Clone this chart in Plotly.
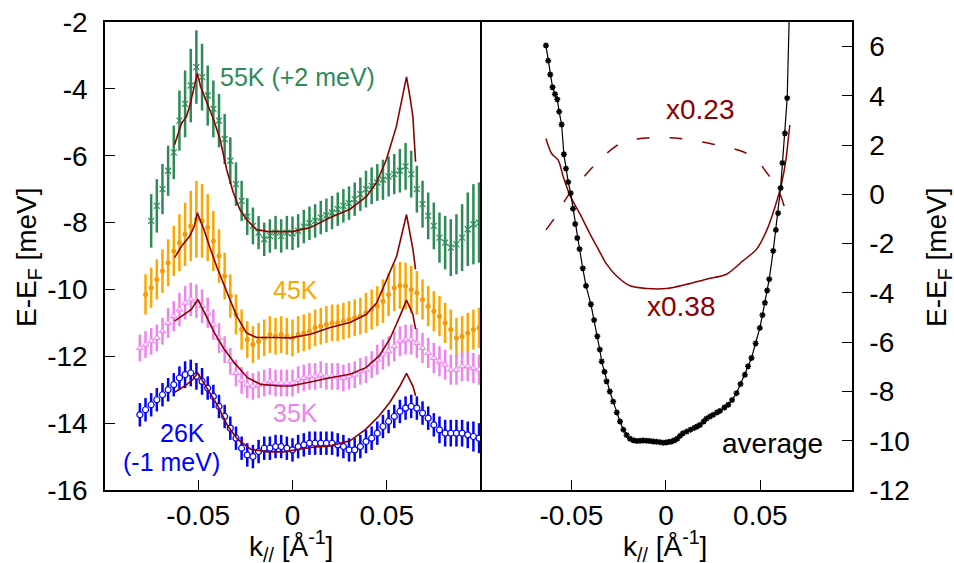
import plotly.graph_objects as go

# ---------------- left panel data ----------------
K_GREEN = [-0.075, -0.072, -0.069, -0.066, -0.063, -0.060, -0.057, -0.054, -0.051, -0.048,
           -0.045, -0.042, -0.039, -0.036, -0.033, -0.030, -0.027, -0.024, -0.021, -0.018,
           -0.015, -0.012, -0.009, -0.006, -0.003, 0.000, 0.003, 0.006, 0.009, 0.012,
           0.015, 0.018, 0.021, 0.024, 0.027, 0.030, 0.033, 0.036, 0.039, 0.042,
           0.045, 0.048, 0.051, 0.054, 0.057, 0.060, 0.063, 0.066, 0.069, 0.072,
           0.075, 0.078, 0.081, 0.084, 0.087, 0.090, 0.093, 0.096, 0.099]
E_GREEN = [-7.95, -7.5, -7.0, -6.45, -5.9, -4.95, -4.45, -3.9, -3.35, -3.65,
           -4.2, -4.6, -4.95, -5.5, -6.15, -6.85, -7.35, -7.82, -8.1, -8.3,
           -8.5, -8.4, -8.3, -8.4, -8.3, -8.32, -8.25, -8.12, -8.02, -7.95,
           -7.85, -7.78, -7.7, -7.6, -7.5, -7.42, -7.3, -7.15, -7.0, -6.9,
           -6.8, -6.72, -6.62, -6.55, -6.45, -6.32, -6.55, -7.0, -7.45, -7.8,
           -8.1, -8.45, -8.6, -8.75, -8.65, -8.45, -8.2, -8.05, -8.0]
ERR_GREEN = [0.8, 0.8, 0.75, 0.75, 0.8, 0.9, 1.0, 1.1, 1.1, 1.0,
             0.9, 0.85, 0.8, 0.75, 0.7, 0.65, 0.6, 0.55, 0.55, 0.5,
             0.5, 0.5, 0.5, 0.5, 0.5, 0.5, 0.5, 0.5, 0.5, 0.5,
             0.5, 0.5, 0.5, 0.5, 0.5, 0.5, 0.5, 0.5, 0.55, 0.55,
             0.55, 0.6, 0.6, 0.6, 0.65, 0.7, 0.7, 0.7, 0.7, 0.7,
             0.7, 0.75, 0.8, 0.85, 0.9, 1.0, 1.1, 1.2, 1.2]

K_ORANGE = [-0.078, -0.075, -0.072, -0.069, -0.066, -0.063, -0.060, -0.057, -0.054, -0.051,
            -0.048, -0.045, -0.042, -0.039, -0.036, -0.033, -0.030, -0.027, -0.024, -0.021,
            -0.018, -0.015, -0.012, -0.009, -0.006, -0.003, 0.000, 0.003, 0.006, 0.009,
            0.012, 0.015, 0.018, 0.021, 0.024, 0.027, 0.030, 0.033, 0.036, 0.039,
            0.042, 0.045, 0.048, 0.051, 0.054, 0.057, 0.060, 0.063, 0.066, 0.069,
            0.072, 0.075, 0.078, 0.081, 0.084, 0.087, 0.090, 0.093, 0.096, 0.099]
E_ORANGE = [-10.15, -9.95, -9.7, -9.45, -9.2, -8.85, -8.6, -8.35, -8.1, -7.9,
            -7.95, -8.15, -8.55, -9.0, -9.6, -10.2, -10.75, -11.2, -11.5, -11.65,
            -11.55, -11.45, -11.35, -11.4, -11.35, -11.4, -11.45, -11.35, -11.3, -11.25,
            -11.15, -11.1, -11.05, -11.0, -11.0, -10.95, -10.9, -10.85, -10.8, -10.7,
            -10.6, -10.5, -10.35, -10.15, -9.95, -9.88, -9.9, -10.0, -10.1, -10.3,
            -10.5, -10.65, -10.8, -11.0, -11.2, -11.45, -11.4, -11.3, -11.2, -11.15]
ERR_ORANGE = [0.6, 0.6, 0.6, 0.65, 0.7, 0.75, 0.85, 0.95, 1.05, 1.15,
              1.1, 1.0, 0.9, 0.8, 0.7, 0.65, 0.6, 0.6, 0.55, 0.55,
              0.55, 0.55, 0.55, 0.55, 0.55, 0.55, 0.55, 0.55, 0.55, 0.55,
              0.55, 0.55, 0.55, 0.55, 0.55, 0.55, 0.55, 0.55, 0.55, 0.6,
              0.6, 0.6, 0.65, 0.65, 0.7, 0.7, 0.7, 0.7, 0.65, 0.6,
              0.6, 0.6, 0.6, 0.6, 0.6, 0.6, 0.6, 0.6, 0.6, 0.6]

K_PB = [-0.081, -0.078, -0.075, -0.072, -0.069, -0.066, -0.063, -0.060, -0.057, -0.054,
        -0.051, -0.048, -0.045, -0.042, -0.039, -0.036, -0.033, -0.030, -0.027, -0.024,
        -0.021, -0.018, -0.015, -0.012, -0.009, -0.006, -0.003, 0.000, 0.003, 0.006,
        0.009, 0.012, 0.015, 0.018, 0.021, 0.024, 0.027, 0.030, 0.033, 0.036,
        0.039, 0.042, 0.045, 0.048, 0.051, 0.054, 0.057, 0.060, 0.063, 0.066,
        0.069, 0.072, 0.075, 0.078, 0.081, 0.084, 0.087, 0.090, 0.093, 0.096, 0.099]
E_PINK = [-11.75, -11.65, -11.55, -11.45, -11.25, -11.0, -10.8, -10.6, -10.4, -10.3,
          -10.35, -10.5, -10.7, -11.05, -11.45, -11.8, -12.15, -12.5, -12.72, -12.85,
          -12.9, -12.85, -12.8, -12.75, -12.8, -12.8, -12.8, -12.8, -12.7, -12.65,
          -12.6, -12.6, -12.55, -12.6, -12.6, -12.6, -12.65, -12.6, -12.55, -12.45,
          -12.4, -12.25, -12.1, -11.95, -11.85, -11.7, -11.55, -11.5, -11.5, -11.6,
          -11.75, -11.9, -12.05, -12.15, -12.25, -12.4, -12.4, -12.3, -12.3, -12.35, -12.4]
ERR_PINK = [0.4, 0.4, 0.4, 0.4, 0.4, 0.45, 0.45, 0.5, 0.5, 0.5,
            0.5, 0.5, 0.45, 0.45, 0.45, 0.4, 0.4, 0.4, 0.4, 0.4,
            0.4, 0.4, 0.4, 0.4, 0.4, 0.4, 0.4, 0.4, 0.4, 0.4,
            0.4, 0.4, 0.4, 0.4, 0.4, 0.4, 0.4, 0.4, 0.4, 0.4,
            0.4, 0.4, 0.45, 0.45, 0.45, 0.45, 0.45, 0.45, 0.45, 0.45,
            0.45, 0.45, 0.45, 0.45, 0.45, 0.45, 0.45, 0.45, 0.45, 0.45, 0.45]
E_BLUE = [-13.75, -13.6, -13.45, -13.3, -13.15, -13.0, -12.85, -12.65, -12.55, -12.5,
          -12.6, -12.75, -12.95, -13.2, -13.5, -13.8, -14.15, -14.45, -14.75, -14.95,
          -15.0, -14.85, -14.75, -14.75, -14.7, -14.7, -14.75, -14.8, -14.7, -14.65,
          -14.6, -14.6, -14.6, -14.6, -14.6, -14.65, -14.7, -14.8, -14.8, -14.7,
          -14.55, -14.45, -14.3, -14.1, -13.95, -13.8, -13.65, -13.55, -13.5, -13.55,
          -13.7, -13.85, -14.05, -14.2, -14.3, -14.3, -14.3, -14.3, -14.35, -14.4, -14.45]
ERR_BLUE = [0.35, 0.35, 0.35, 0.35, 0.35, 0.35, 0.35, 0.35, 0.4, 0.4,
            0.4, 0.4, 0.35, 0.35, 0.35, 0.35, 0.35, 0.35, 0.35, 0.35,
            0.35, 0.35, 0.35, 0.35, 0.35, 0.35, 0.35, 0.35, 0.35, 0.35,
            0.35, 0.35, 0.35, 0.35, 0.35, 0.35, 0.35, 0.35, 0.35, 0.35,
            0.35, 0.35, 0.35, 0.35, 0.35, 0.35, 0.35, 0.35, 0.35, 0.35,
            0.35, 0.35, 0.35, 0.4, 0.4, 0.4, 0.4, 0.4, 0.4, 0.45, 0.45]

# fitted curves (dark red lines)
K_FIT_G = [-0.0626, -0.0589, -0.0563, -0.0546, -0.0505, -0.0488, -0.0453, -0.0418, -0.0384,
           -0.0349, -0.0314, -0.0279, -0.0244, -0.0191, -0.013, -0.005, 0.0, 0.0095, 0.020,
           0.0305, 0.0393, 0.0446, 0.0498, 0.0551, 0.0605, 0.0625, 0.0639, 0.0653]
E_FIT_G = [-5.67, -5.03, -4.83, -4.53, -3.53, -3.93, -4.43, -4.93, -5.52,
           -6.42, -7.11, -7.61, -7.91, -8.21, -8.27, -8.27, -8.27, -8.15, -7.85,
           -7.6, -7.22, -6.8, -6.12, -5.13, -3.64, -4.3, -4.84, -6.18]
K_FIT_O = [-0.0626, -0.0589, -0.0546, -0.0521, -0.0505, -0.047, -0.0435, -0.040, -0.0332,
           -0.0296, -0.0244, -0.019, -0.010, -0.001, 0.0095, 0.020, 0.0305, 0.039, 0.0447,
           0.050, 0.0553, 0.0605, 0.0639, 0.0653]
E_FIT_O = [-9.05, -8.71, -8.41, -8.11, -7.71, -8.21, -8.8, -9.35, -10.3,
           -10.8, -11.3, -11.44, -11.44, -11.45, -11.34, -11.14, -10.99, -10.75, -10.4,
           -9.7, -9.0, -7.76, -8.8, -9.4]
K_FIT_P = [-0.0626, -0.0572, -0.0537, -0.0502, -0.0467, -0.0414, -0.0362, -0.0309, -0.0239,
           -0.0169, -0.0063, -0.001, 0.0095, 0.020, 0.0305, 0.039, 0.046, 0.0516, 0.057,
           0.0605, 0.0639, 0.0653]
E_FIT_P = [-10.95, -10.75, -10.6, -10.3, -10.7, -11.3, -11.79, -12.19, -12.64,
           -12.84, -12.89, -12.89, -12.77, -12.64, -12.54, -12.34, -11.99, -11.49, -10.8,
           -10.32, -10.75, -11.19]
K_FIT_B = [-0.0626, -0.0572, -0.0537, -0.0502, -0.045, -0.0397, -0.0344, -0.0292, -0.0222,
           -0.0134, -0.0047, -0.001, 0.0095, 0.020, 0.0305, 0.039, 0.046, 0.0516, 0.057,
           0.0605, 0.0639, 0.0653]
E_FIT_B = [-13.08, -12.89, -12.74, -12.51, -12.99, -13.48, -14.08, -14.48, -14.78,
           -14.86, -14.86, -14.83, -14.73, -14.68, -14.53, -14.18, -13.78, -13.38, -12.89,
           -12.51, -12.89, -13.18]

# ---------------- right panel data ----------------
K_AVG = [-0.0635, -0.0623, -0.0612, -0.0600, -0.0587, -0.0575, -0.0565, -0.0552, -0.0540, -0.0529,
         -0.0517, -0.0504, -0.0492, -0.0480, -0.0469, -0.0457, -0.0440, -0.0423, -0.0397, -0.0380,
         -0.0363, -0.0350, -0.0340, -0.0325, -0.0314, -0.0297, -0.0279, -0.0260, -0.0243, -0.0225,
         -0.0208, -0.0190, -0.0172, -0.0155, -0.0137, -0.0120, -0.0102, -0.0085, -0.0067, -0.0050,
         -0.0032, -0.0015, 0.0000, 0.0015, 0.0030, 0.0045, 0.0060, 0.0075, 0.0090, 0.0110,
         0.0130, 0.0150, 0.0165, 0.0180, 0.0200, 0.0215, 0.0233, 0.0250, 0.0270, 0.0286,
         0.0310, 0.0330, 0.0350, 0.0374, 0.0395, 0.0418, 0.0435, 0.0453, 0.0475, 0.0497,
         0.0511, 0.0524, 0.0536, 0.0547, 0.0568, 0.0582, 0.0594, 0.0607, 0.0617, 0.0630, 0.0642]
E_AVG = [6.05, 5.43, 4.87, 4.35, 4.07, 3.86, 3.36, 2.84, 1.63, 1.05,
         0.50, 0.05, -0.58, -1.20, -1.77, -2.22, -3.0, -3.71, -4.46, -5.1,
         -5.76, -6.3, -6.78, -7.2, -7.59, -8.0, -8.41, -8.85, -9.22, -9.55,
         -9.77, -9.92, -9.98, -10.01, -10.0, -9.99, -10.0, -10.01, -10.03, -10.04,
         -10.06, -10.08, -10.07, -10.05, -10.03, -9.98, -9.92, -9.8, -9.7, -9.63,
         -9.55, -9.48, -9.42, -9.36, -9.22, -9.1, -9.02, -8.95, -8.85, -8.79,
         -8.65, -8.54, -8.35, -8.07, -7.7, -7.32, -6.98, -6.64, -6.05, -5.42,
         -4.9, -4.40, -3.9, -3.44, -2.29, -1.44, -0.76, 0.26, 1.28, 2.48, 3.91]
K_AVG_TAIL = [0.0642, 0.0652]
E_AVG_TAIL = [3.91, 7.0]

K_X038 = [-0.0635, -0.0605, -0.057, -0.0543, -0.0508, -0.0455, -0.0402, -0.0358, -0.0314, -0.0261,
          -0.019, -0.0102, 0.0004, 0.011, 0.0215, 0.0321, 0.0409, 0.048, 0.0533, 0.0577,
          0.0612, 0.0635, 0.0647, 0.0656]
E_X038 = [2.27, 1.66, 1.39, 0.71, -0.04, -0.79, -1.60, -2.22, -2.83, -3.31,
          -3.71, -3.82, -3.82, -3.65, -3.44, -3.24, -2.69, -2.22, -1.47, -0.52,
          0.44, 1.39, 2.20, 2.82]
K_X023 = [-0.0635, -0.0587, -0.0517, -0.042, -0.0314, -0.0226, -0.0085, 0.0074, 0.025, 0.0409,
          0.048, 0.055, 0.0603, 0.063, 0.0647]
E_X023 = [-1.44, -0.93, -0.04, 0.84, 1.66, 2.13, 2.30, 2.27, 2.04, 1.73,
          1.39, 0.71, 0.03, -0.58, -1.06]

LEFT_TICKS = [-16, -14, -12, -10, -8, -6, -4, -2]
LEFT_TICK_TEXT = ["-16", "-14", "-12", "-10", "-8", "-6", "-4", "-2"]
RIGHT_TICKS = [-12, -10, -8, -6, -4, -2, 0, 2, 4, 6]
RIGHT_TICK_TEXT = ["-12", "-10", "-8", "-6", "-4", "-2", "0", "2", "4", "6"]
K_TICKS = [-0.05, 0, 0.05]
K_TICK_TEXT = ["-0.05", "0", "0.05"]

GREEN = "#2e8b57"
ORANGE = "#ffa500"
PINK = "#ee82ee"
BLUE = "#0000ff"
DARKRED = "#8b0000"
FONT = "Liberation Sans, Arial, sans-serif"
FS = 28
FS_T = 25

fig = go.Figure()


def data_trace(k, e, err, color, marker):
    return go.Scatter(
        x=k, y=e, mode="markers", xaxis="x", yaxis="y",
        error_y=dict(type="data", array=err, visible=True, color=color,
                     thickness=2.5, width=0),
        marker=marker, showlegend=False, hoverinfo="skip")


fig.add_trace(data_trace(K_GREEN, E_GREEN, ERR_GREEN, GREEN,
                         dict(symbol="x-thin-open", size=6, color=GREEN,
                              line=dict(color="#dff0e6", width=1.2))))
fig.add_trace(data_trace(K_ORANGE, E_ORANGE, ERR_ORANGE, ORANGE,
                         dict(symbol="circle", size=5, color="#f59a00",
                              line=dict(width=0))))
fig.add_trace(data_trace(K_PB, E_PINK, ERR_PINK, PINK,
                         dict(symbol="triangle-up", size=6, color="#fbe3fb",
                              line=dict(color=PINK, width=1))))
fig.add_trace(data_trace(K_PB, E_BLUE, ERR_BLUE, BLUE,
                         dict(symbol="circle", size=6, color="white",
                              line=dict(color=BLUE, width=1.2))))

for kf, ef in [(K_FIT_G, E_FIT_G), (K_FIT_O, E_FIT_O), (K_FIT_P, E_FIT_P), (K_FIT_B, E_FIT_B)]:
    fig.add_trace(go.Scatter(x=kf, y=ef, mode="lines", xaxis="x", yaxis="y",
                             line=dict(color=DARKRED, width=1.6),
                             showlegend=False, hoverinfo="skip"))

# right panel
fig.add_trace(go.Scatter(x=K_X023, y=E_X023, mode="lines", xaxis="x2", yaxis="y2",
                         line=dict(color=DARKRED, width=1.5, dash="13px,20px",
                                   shape="spline", smoothing=0.8),
                         showlegend=False, hoverinfo="skip"))
fig.add_trace(go.Scatter(x=K_X038, y=E_X038, mode="lines", xaxis="x2", yaxis="y2",
                         line=dict(color=DARKRED, width=1.5, shape="spline", smoothing=0.8),
                         showlegend=False, hoverinfo="skip"))
fig.add_trace(go.Scatter(x=K_AVG_TAIL, y=E_AVG_TAIL, mode="lines", xaxis="x2", yaxis="y2",
                         line=dict(color="black", width=1.2),
                         showlegend=False, hoverinfo="skip"))
fig.add_trace(go.Scatter(x=K_AVG, y=E_AVG, mode="lines+markers", xaxis="x2", yaxis="y2",
                         line=dict(color="black", width=1.2),
                         marker=dict(symbol="asterisk-open", size=5,
                                     line=dict(color="black", width=1.5)),
                         showlegend=False, hoverinfo="skip"))

axis_common = dict(showline=True, linecolor="black", linewidth=1.5,
                   ticks="inside", ticklen=10, tickwidth=1.2, tickcolor="black",
                   showgrid=False, zeroline=False, automargin=False,
                   tickfont=dict(family=FONT, size=FS, color="black"))

X0, XM, X1 = 105 / 954, 480 / 954, 852 / 954
Y0, Y1 = 1 - 490 / 563, 1 - 22 / 563

fig.update_layout(
    width=954, height=563, margin=dict(l=0, r=0, t=0, b=0, autoexpand=False),
    paper_bgcolor="white", plot_bgcolor="white",
    xaxis=dict(domain=[X0, XM], range=[-0.0995, 0.0995], tickvals=K_TICKS,
               ticktext=K_TICK_TEXT, anchor="y", ticklabelstandoff=0, mirror=True,
               **axis_common),
    yaxis=dict(domain=[Y0, Y1], range=[-16, -2], tickvals=LEFT_TICKS,
               ticktext=LEFT_TICK_TEXT, anchor="x",
               ticklabelstandoff=10, mirror=True, **axis_common),
    xaxis2=dict(domain=[XM, X1], range=[-0.0984, 0.0985], tickvals=K_TICKS,
                ticktext=K_TICK_TEXT, anchor="y2", ticklabelstandoff=0, mirror=True,
                **axis_common),
    yaxis2=dict(domain=[Y0, Y1], range=[-12, 7], tickvals=RIGHT_TICKS,
                ticktext=RIGHT_TICK_TEXT, anchor="x2",
                side="right", ticklabelstandoff=10, mirror=False, **axis_common),
)


def ann_font(c, s=FS):
    return dict(family=FONT, size=s, color=c)


labels = [
    ("x", "y", 0.0025, -3.64, "55K (+2 meV)", GREEN, FS_T),
    ("x", "y", 0.0015, -10.03, "45K", ORANGE, FS_T),
    ("x", "y", 0.0015, -13.70, "35K", PINK, FS_T),
    ("x", "y", -0.0585, -14.30, "26K", BLUE, FS_T),
    ("x", "y", -0.0644, -15.16, "(-1 meV)", BLUE, FS_T),
    ("x2", "y2", 0.0181, 3.44, "x0.23", DARKRED, FS),
    ("x2", "y2", 0.0081, -4.56, "x0.38", DARKRED, FS),
    ("x2", "y2", 0.0562, -10.1, "average", "black", FS),
]
for xr, yr, xv, yv, txt, col, sz in labels:
    fig.add_annotation(x=xv, y=yv, xref=xr, yref=yr, text=txt, showarrow=False,
                       xanchor="center", yanchor="middle", font=ann_font(col, sz))

# axis titles
fig.add_annotation(x=28 / 954, y=1 - 257 / 563, xref="paper", yref="paper",
                   text="E-E<sub>F</sub> [meV]", textangle=-90, showarrow=False,
                   xanchor="center", yanchor="middle", font=ann_font("black"))
fig.add_annotation(x=938 / 954, y=1 - 257 / 563, xref="paper", yref="paper",
                   text="E-E<sub>F</sub> [meV]", textangle=-90, showarrow=False,
                   xanchor="center", yanchor="middle", font=ann_font("black"))
fig.add_annotation(x=291 / 954, y=1 - 546 / 563, xref="paper", yref="paper",
                   text="k<sub>//</sub> [Å<sup>-1</sup>]", showarrow=False,
                   xanchor="center", yanchor="middle", font=ann_font("black"))
fig.add_annotation(x=665 / 954, y=1 - 546 / 563, xref="paper", yref="paper",
                   text="k<sub>//</sub> [Å<sup>-1</sup>]", showarrow=False,
                   xanchor="center", yanchor="middle", font=ann_font("black"))

fig.write_html("out.html", config={"displayModeBar": False},
               post_script="document.body.style.margin='0';document.body.style.overflow='hidden';")
